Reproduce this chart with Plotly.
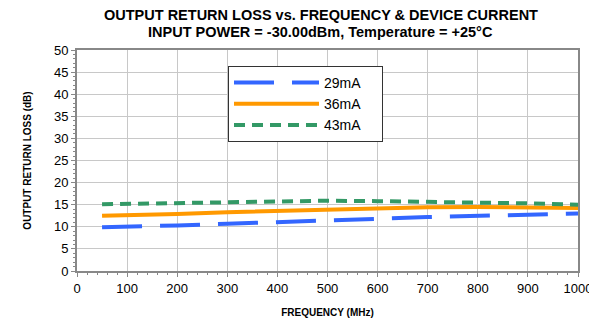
import plotly.graph_objects as go

freq = [50, 100, 200, 300, 400, 500, 600, 700, 800, 900, 1000]
rl_29 = [9.9, 10.0, 10.3, 10.7, 11.0, 11.4, 11.8, 12.2, 12.5, 12.8, 13.0]
rl_36 = [12.5, 12.6, 12.9, 13.3, 13.6, 13.9, 14.2, 14.4, 14.5, 14.4, 14.25]
rl_43 = [15.1, 15.2, 15.4, 15.6, 15.8, 15.9, 15.8, 15.7, 15.5, 15.3, 15.0]
names = ["29mA", "36mA", "43mA"]
colors = ["#3366FF", "#FF9900", "#339966"]
dashes = ["40px,18px", "solid", "11px,7px"]

fig = go.Figure()
for y, n, c, d in zip([rl_29, rl_36, rl_43], names, colors, dashes):
    fig.add_trace(go.Scatter(x=freq, y=y, name=n + "&nbsp;&nbsp;&nbsp;&nbsp;", mode="lines",
                             line=dict(color=c, width=4, dash=d)))

PH = 221
fig.add_annotation(text="<b>OUTPUT RETURN LOSS vs. FREQUENCY & DEVICE CURRENT</b>",
                   xref="paper", yref="paper", x=0.487, y=1 + (50 - 15) / PH,
                   xanchor="center", yanchor="middle", showarrow=False, font=dict(size=14.5))
fig.add_annotation(text="<b>INPUT POWER = -30.00dBm, Temperature = +25°C</b>",
                   xref="paper", yref="paper", x=0.487, y=1 + (50 - 32) / PH,
                   xanchor="center", yanchor="middle", showarrow=False, font=dict(size=14.5))

fig.update_layout(
    width=597, height=323,
    margin=dict(l=69, r=27, t=42, b=60, autoexpand=False),
    paper_bgcolor="white", plot_bgcolor="white",
    font=dict(family="Liberation Sans, Arial, sans-serif", color="black"),
    showlegend=True,
    legend=dict(x=(228 - 77) / 501, y=1 - (66 - 50) / PH, xanchor="left", yanchor="top",
                bordercolor="#333333", borderwidth=1, bgcolor="white",
                font=dict(size=14), tracegroupgap=0, itemwidth=85),
    xaxis=dict(range=[0, 1000], dtick=100, showgrid=True, gridcolor="#C8C8C8",
               showline=True, linecolor="#888888", linewidth=2, mirror=True,
               ticks="outside", ticklen=4, tickcolor="#888888", tickfont=dict(size=13),
               minor=dict(dtick=20, ticks="outside", ticklen=2, tickcolor="#888888", showgrid=False),
               title=dict(text="<b>FREQUENCY (MHz)</b>", font=dict(size=10), standoff=14),
               zeroline=False, automargin=False),
    yaxis=dict(range=[0, 50], dtick=5, showgrid=True, gridcolor="#C8C8C8",
               showline=True, linecolor="#888888", linewidth=2, mirror=True,
               ticks="outside", ticklen=4, tickcolor="#888888", tickfont=dict(size=13),
               minor=dict(dtick=1, ticks="outside", ticklen=2, tickcolor="#888888", showgrid=False),
               title=dict(text="<b>OUTPUT RETURN LOSS (dB)</b>", font=dict(size=10), standoff=20),
               zeroline=False, automargin=False),
)
fig.write_html("out.html")
